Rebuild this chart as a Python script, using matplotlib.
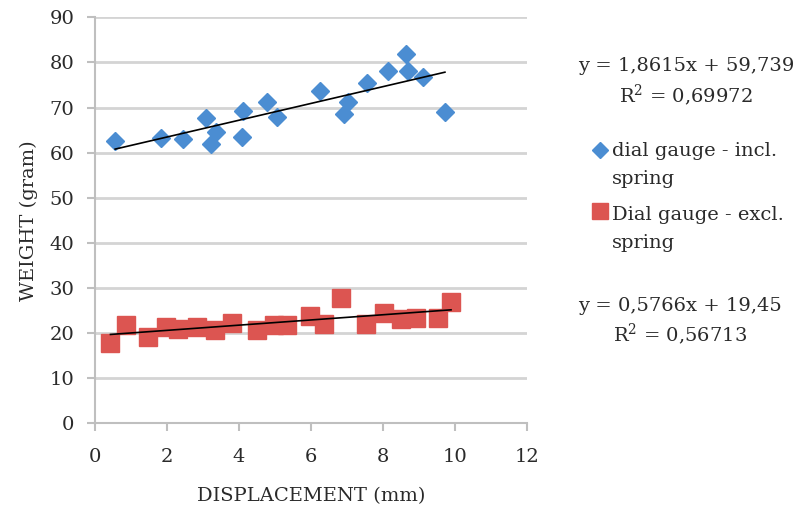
import matplotlib
matplotlib.use("Agg")
import matplotlib.pyplot as plt
from matplotlib.lines import Line2D
import numpy as np

# ---- data ----
incl_x = [0.56, 1.82, 2.44, 3.08, 3.36, 3.21, 4.10, 4.07, 4.77, 5.06,
          6.25, 7.04, 6.92, 7.56, 8.15, 8.64, 8.70, 9.10, 9.72]
incl_y = [62.6, 63.2, 63.0, 67.7, 64.6, 61.9, 69.2, 63.5, 71.2, 68.0,
          73.7, 71.3, 68.6, 75.5, 78.2, 81.8, 78.1, 76.8, 69.1]

excl_x = [0.43, 0.85, 1.48, 1.96, 2.31, 2.82, 3.33, 3.80, 4.49, 4.97,
          5.34, 5.96, 6.35, 6.82, 7.54, 8.03, 8.49, 8.93, 9.54, 9.89]
excl_y = [17.9, 21.8, 19.2, 21.4, 20.8, 21.4, 20.7, 22.2, 20.7, 21.9,
          21.8, 23.8, 22.0, 27.7, 22.0, 24.4, 23.1, 23.4, 23.4, 27.0]

incl_fit = (1.8615, 59.739)
excl_fit = (0.5766, 19.45)

incl_label = "dial gauge - incl.\nspring"
excl_label = "Dial gauge - excl.\nspring"
incl_eq = ["y = 1,8615x + 59,739", "R$^2$ = 0,69972"]
excl_eq = ["y = 0,5766x + 19,45", "R$^2$ = 0,56713"]

x_ticks = [0, 2, 4, 6, 8, 10, 12]
y_ticks = [0, 10, 20, 30, 40, 50, 60, 70, 80, 90]

blue = "#4b8dd2"
red = "#dc5551"
grid_c = "#d4d4d4"
txt_c = "#2a2a2a"
FS = 14

plt.rcParams["font.family"] = ["DejaVu Serif"]
plt.rcParams["mathtext.fontset"] = "dejavuserif"

W, H = 798, 509
fig = plt.figure(figsize=(W / 100, H / 100), dpi=100)
ax = fig.add_axes([95 / W, 1 - 423.3 / H, (527 - 95) / W, (423.3 - 17.3) / H])

ax.set_xlim(0, 12)
ax.set_ylim(0, 90)
ax.set_xticks(x_ticks)
ax.set_yticks(y_ticks)
ax.yaxis.grid(True, color=grid_c, linewidth=2)
ax.set_axisbelow(True)
for s in ["top", "right"]:
    ax.spines[s].set_visible(False)
for s in ["left", "bottom"]:
    ax.spines[s].set_color("#bfbfbf")
    ax.spines[s].set_linewidth(1.5)
ax.tick_params(axis="both", colors="#bfbfbf", labelcolor=txt_c,
               labelsize=FS, length=6, width=1.5)
ax.tick_params(axis="y", pad=9)
ax.tick_params(axis="x", pad=12)

ax.plot(incl_x, incl_y, linestyle="none", marker="D", ms=9.5,
        color=blue, zorder=3)
ax.plot(excl_x, excl_y, linestyle="none", marker="s", ms=13,
        color=red, zorder=3)

for xs, (m, b) in [(incl_x, incl_fit), (excl_x, excl_fit)]:
    xx = np.array([min(xs), max(xs)])
    ax.plot(xx, m * xx + b, color="black", linewidth=1.2, zorder=4)

ax.set_xlabel("DISPLACEMENT (mm)", fontsize=FS, color=txt_c, labelpad=15)
ax.set_ylabel("WEIGHT (gram)", fontsize=FS, color=txt_c, labelpad=8)


def ftext(x, y, s, **kw):
    fig.text(x / W, 1 - y / H, s, fontsize=FS, color=txt_c, **kw)


ftext(686, 66, incl_eq[0], ha="center", va="center")
ftext(686, 95, incl_eq[1], ha="center", va="center")
ftext(680, 306, excl_eq[0], ha="center", va="center")
ftext(680, 334, excl_eq[1], ha="center", va="center")

# legend (drawn in figure coordinates)
leg_items = [(incl_label, "D", 8, blue, 150, 151.5), (excl_label, "s", 12, red, 211.5, 214.5)]
for label, mk, ms, col, my, ty in leg_items:
    fig.add_artist(Line2D([600 / W], [1 - my / H], transform=fig.transFigure,
                          marker=mk, ms=ms, color=col, linestyle="none"))
    lines = label.split("\n")
    for i, ln in enumerate(lines):
        ftext(612, ty + i * 28, ln, ha="left", va="center")

fig.savefig("out.png", dpi=100)
